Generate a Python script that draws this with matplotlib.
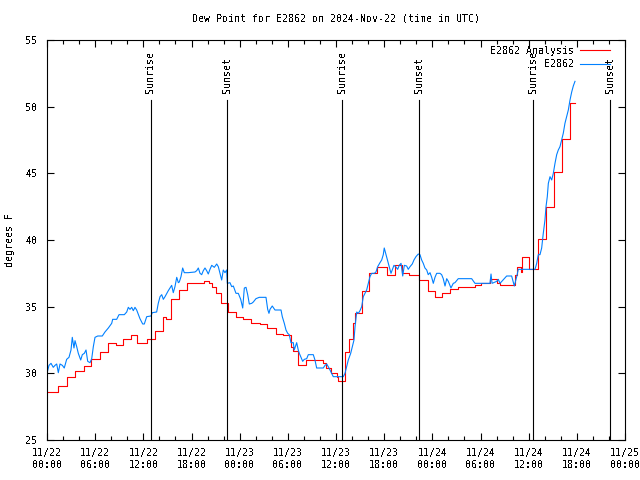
import numpy as np
import pandas as pd
import matplotlib
matplotlib.use("Agg")
import matplotlib.pyplot as plt
import matplotlib.dates as mdates

# Dew point for E2862, hours after 2024-11-22 00:00 UTC
start = pd.Timestamp("2024-11-22 00:00")

analysis_hours = [0.0, 1.4, 2.45, 3.5, 4.6, 5.5, 6.6, 7.6, 8.6, 9.5, 10.5, 11.2, 12.4,
                  13.45, 14.4, 14.8, 15.4, 16.5, 17.5, 19.5, 20.2, 20.6, 21.0, 21.7,
                  22.5, 23.5, 24.4, 25.4, 26.5, 27.4, 28.5, 29.4, 30.4, 30.6, 31.3,
                  32.3, 34.4, 34.8, 35.4, 36.1, 36.3, 37.1, 37.6, 38.1, 38.35, 39.2,
                  40.1, 41.1, 42.3, 43.3, 44.2, 45.1, 46.3, 47.4, 48.3, 49.2, 50.2,
                  51.2, 53.3, 54.1, 55.2, 56.0, 56.4, 58.3, 58.6, 59.0, 59.2, 60.1,
                  61.2, 62.2, 63.2, 64.2, 65.1, 65.8]
analysis_vals = [28.6, 29.05, 29.7, 30.2, 30.55, 31.1, 31.6, 32.25, 32.1, 32.55, 32.85, 32.25, 32.55,
                 33.2, 34.25, 34.1, 35.55, 36.25, 36.75, 36.9, 36.75, 36.45, 36.05, 35.25,
                 34.6, 34.2, 34.1, 33.8, 33.7, 33.4, 32.95, 32.9, 32.0, 31.7, 30.6,
                 31.0, 30.75, 30.4, 30.05, 29.75, 29.4, 31.6, 32.6, 33.8, 34.5, 36.2,
                 37.5, 38.0, 37.4, 38.1, 37.5, 37.4, 37.0, 36.2, 35.7, 36.0, 36.3,
                 36.45, 36.6, 36.75, 37.1, 36.8, 36.6, 37.4, 38.0, 37.6, 38.75, 37.8,
                 40.1, 42.5, 45.1, 47.6, 50.3, 50.3]

obs_hours = [0.0, 0.25, 0.5, 0.78, 1.0, 1.21, 1.41, 1.62, 1.91, 2.15, 2.45, 2.74, 2.99,
             3.15, 3.36, 3.49, 3.70, 3.90, 4.20, 4.40, 4.65, 4.86, 5.07, 5.36, 5.57,
             5.77, 5.98, 6.32, 6.89, 7.22, 7.64, 8.06, 8.18, 8.68, 8.97, 9.63, 9.93,
             10.13, 10.34, 10.55, 10.75, 10.96, 11.17, 11.58, 11.92, 12.12, 12.42,
             12.95, 13.12, 13.66, 13.86, 14.08, 14.29, 14.49, 14.70, 15.11, 15.53,
             15.73, 15.94, 16.16, 16.36, 16.48, 16.69, 16.90, 17.10, 17.60, 18.43,
             18.65, 18.85, 19.06, 19.27, 19.47, 19.68, 19.89, 20.09, 20.30, 20.52,
             20.84, 21.14, 21.34, 21.76, 21.96, 22.17, 22.38, 22.46, 22.79, 23.01,
             23.21, 23.54, 23.83, 24.13, 24.38, 24.58, 24.79, 25.00, 25.20, 25.50,
             25.70, 26.03, 26.44, 27.28, 27.49, 27.65, 27.78, 28.06, 28.40, 29.15,
             29.31, 29.56, 29.77, 29.98, 30.18, 30.39, 30.68, 30.80, 31.10, 31.30,
             31.43, 31.64, 31.85, 32.05, 32.35, 32.55, 33.17, 33.38, 33.59, 34.42,
             34.63, 34.84, 35.13, 35.46, 35.66, 36.91, 37.12, 37.33, 37.53, 37.83,
             38.03, 38.24, 38.37, 38.58, 38.78, 38.99, 39.20, 39.40, 39.61, 39.82,
             40.02, 40.23, 40.44, 40.77, 40.98, 41.19, 41.48, 41.69, 41.89, 42.01,
             42.23, 42.44, 42.64, 42.85, 43.01, 43.22, 43.43, 43.68, 43.88, 44.10,
             44.31, 44.51, 44.80, 45.00, 45.22, 45.50, 45.71, 45.96, 46.25, 46.46,
             46.67, 46.87, 47.08, 47.30, 47.49, 47.71, 47.92, 48.12, 48.33, 48.54,
             48.95, 49.16, 49.36, 49.58, 49.79, 49.99, 50.32, 50.61, 50.82, 51.23,
             52.90, 53.31, 55.18, 55.31, 55.44, 56.02, 56.22, 56.43, 57.26, 57.88,
             58.21, 58.51, 58.71, 60.79, 61.00, 61.20, 61.41, 61.62, 61.82, 62.03,
             62.16, 62.32, 62.45, 62.66, 62.87, 63.07, 63.28, 63.49, 63.69, 63.90,
             64.11, 64.31, 64.52, 64.73, 64.94, 65.15, 65.36, 65.56, 65.77]
obs_vals = [30.0, 30.6, 30.75, 30.45, 30.6, 30.7, 30.05, 30.7, 30.6, 30.4, 31.05, 31.2, 31.75,
            32.7, 31.9, 32.45, 32.0, 31.5, 31.0, 31.4, 31.5, 31.75, 30.9, 30.8, 31.1,
            32.0, 32.7, 32.8, 32.8, 33.1, 33.4, 33.75, 34.05, 34.05, 34.4, 34.4, 34.6,
            34.95, 34.8, 34.95, 34.7, 34.95, 34.75, 34.1, 33.7, 33.7, 34.25,
            34.3, 34.55, 34.6, 35.25, 35.75, 35.9, 35.55, 35.75, 36.2, 36.6,
            36.05, 36.5, 37.2, 36.8, 36.85, 37.25, 37.9, 37.55, 37.55, 37.6,
            37.7, 37.9, 37.5, 37.4, 37.7, 37.9, 37.7, 37.45, 37.8, 38.1,
            37.95, 38.2, 38.0, 37.0, 37.75, 37.55, 37.75, 36.75, 36.8, 36.5,
            36.55, 36.0, 36.0, 35.55, 34.9, 36.4, 36.45, 35.9, 35.2, 35.25,
            35.35, 35.6, 35.7, 35.7, 34.8, 34.5, 34.8, 35.05, 34.75, 34.75,
            34.25, 33.75, 33.25, 33.0, 32.9, 32.3, 32.3, 31.75, 32.3, 31.75,
            31.5, 31.2, 30.9, 31.05, 31.1, 31.4, 31.4, 31.0, 30.4, 30.4,
            30.6, 30.7, 30.4, 30.0, 29.75, 29.75, 30.0, 30.5, 31.0, 31.5,
            32.0, 32.5, 33.5, 34.6, 34.5, 34.7, 35.0, 35.75, 36.0, 36.25,
            36.75, 37.25, 37.5, 37.5, 37.6, 38.0, 38.3, 38.5, 38.9, 39.4,
            38.9, 38.4, 38.0, 37.5, 37.75, 38.1, 38.0, 37.8, 38.1, 38.25,
            37.3, 38.1, 38.05, 37.8, 38.0, 38.2, 38.5, 38.75, 38.95, 38.9,
            38.5, 38.25, 37.9, 37.75, 37.4, 37.55, 37.2, 36.75, 37.2, 37.5,
            37.5, 37.4, 37.1, 36.55, 37.1, 36.9, 36.4, 36.75, 36.8, 37.1,
            37.1, 36.75, 36.75, 37.45, 36.75, 36.9, 37.05, 36.75, 37.3, 37.3,
            36.55, 37.25, 37.8, 37.8, 38.25, 38.9, 38.9, 39.4, 40.5, 41.5,
            42.5, 43.25, 44.25, 44.75, 44.5, 45.0, 45.75, 46.4, 46.75, 47.0,
            47.5, 48.0, 48.75, 49.25, 49.75, 50.5, 51.1, 51.55, 51.9]

sun_events = ["2024-11-22 12:56", "2024-11-22 22:25", "2024-11-23 12:44",
              "2024-11-23 22:20", "2024-11-24 12:32", "2024-11-24 22:08"]
sun_labels = ["Sunrise", "Sunset", "Sunrise", "Sunset", "Sunrise", "Sunset"]

plt.rcParams['font.family'] = ['DejaVu Sans Mono']
plt.rcParams['font.size'] = 7.2
plt.rcParams['text.antialiased'] = False

analysis_t = start + pd.to_timedelta(analysis_hours, unit="h")
obs_t = start + pd.to_timedelta(obs_hours, unit="h")

fig = plt.figure(figsize=(6.4, 4.8), dpi=100)
ax = fig.add_axes([47 / 640, 40 / 480, 578 / 640, 400 / 480])

ax.plot(analysis_t, analysis_vals, color="#ff0000", lw=0.8, drawstyle="steps-post",
        label="E2862 Analysis")
ax.plot(obs_t, obs_vals, color="#0080ff", lw=0.8, label="E2862")

for ev, lab in zip(sun_events, sun_labels):
    t = pd.Timestamp(ev)
    ax.plot([t, t], [25, 50.5], color="black", lw=0.8)
    ax.text(t, 51.0, lab, rotation=90, ha="center", va="bottom")

ax.set_xlim(start, start + pd.Timedelta(hours=72))
ax.set_ylim(25, 55)
ax.set_yticks(range(25, 56, 5))
ax.xaxis.set_major_locator(mdates.HourLocator(byhour=[0, 6, 12, 18]))
ax.xaxis.set_minor_locator(mdates.HourLocator(byhour=range(0, 24, 2)))
ax.xaxis.set_major_formatter(mdates.DateFormatter("%m/%d\n%H:%M"))
ax.tick_params(which="both", direction="in", top=True, right=True, width=0.8)
ax.tick_params(which="major", length=5, pad=6)
ax.tick_params(which="minor", length=3)
ax.tick_params(axis="y", pad=7)
for s in ax.spines.values():
    s.set_linewidth(0.8)

ax.set_ylabel("degrees F")
ax.yaxis.set_label_coords(-0.055, 0.5)
ax.set_title("Dew Point for E2862 on 2024-Nov-22 (time in UTC)", fontsize=7.2, pad=13)
ax.legend(loc="upper right", frameon=False, markerfirst=False, handlelength=3.0,
          borderaxespad=0.0, labelspacing=0.35, handletextpad=0.6,
          bbox_to_anchor=(1 - 11 / 578, 1 - 2 / 400), bbox_transform=ax.transAxes)

fig.savefig("out.png", dpi=100)
